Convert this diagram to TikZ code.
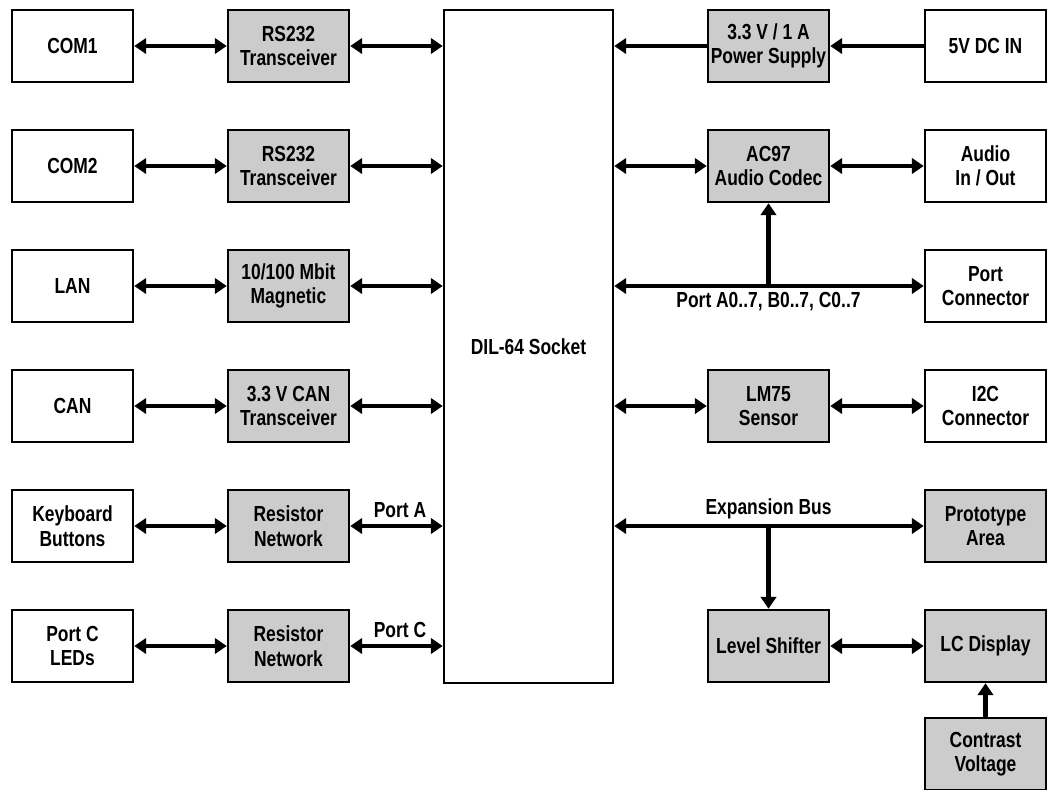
\documentclass[tikz,border=0pt]{standalone}
\usepackage{fontspec}
\setmainfont[FakeStretch=0.8]{Liberation Sans}
\usetikzlibrary{arrows.meta}

\tikzset{
    blk/.style={draw, line width=1.8pt, minimum width=3.025cm, minimum height=1.8cm,
        align=center, font=\bfseries\fontsize{15.5}{17.5}\selectfont, inner sep=1pt},
    wbox/.style={blk, fill=white},
    gbox/.style={blk, fill=black!20},
    link/.style={line width=3pt, {Triangle[length=8.5pt,width=11pt]}-{Triangle[length=8.5pt,width=11pt]}},
    feed/.style={line width=3pt, -{Triangle[length=8.5pt,width=11pt]}},
    lbl/.style={font=\bfseries\fontsize{15.5}{17.5}\selectfont, inner sep=1pt}
}

\begin{document}
\begin{tikzpicture}[x=0.025cm, y=-0.025cm]
    \useasboundingbox (0,0) rectangle (1047,790);

    % Sockel
    \node[wbox, minimum width=4.225cm, minimum height=16.825cm] (sock) at (528.5,346.5) {DIL-64 Socket};

    % Linke Seite
    \foreach \y/\n/\a/\b in {46/1/COM1/{RS232\\Transceiver}, 166/2/COM2/{RS232\\Transceiver},
            286/3/LAN/{10/100 Mbit\\Magnetic}, 406/4/CAN/{3.3 V CAN\\Transceiver},
            526/5/{Keyboard\\Buttons}/{Resistor\\Network}, 646/6/{Port C\\LEDs}/{Resistor\\Network}} {
        \node[wbox] (ext\n) at (72.5,\y) {\a};
        \node[gbox] (drv\n) at (288.5,\y) {\b};
        \draw[link] (ext\n.east) -- (drv\n.west);
        \draw[link] (drv\n.east) -- (drv\n.east -| sock.west);
    }
    \node[lbl, above] at (400,519) {Port A};
    \node[lbl, above] at (400,639) {Port C};

    % Rechte Seite
    \node[gbox] (psu) at (768.5,46) {3.3 V / 1 A\\Power Supply};
    \node[wbox] (dcin) at (985.5,46) {5V DC IN};
    \node[gbox] (codec) at (768.5,166) {AC97\\Audio Codec};
    \node[wbox] (audio) at (985.5,166) {Audio\\In / Out};
    \node[wbox] (portcon) at (985.5,286) {Port\\Connector};
    \node[gbox] (lm75) at (768.5,406) {LM75\\Sensor};
    \node[wbox] (i2c) at (985.5,406) {I2C\\Connector};
    \node[gbox] (proto) at (985.5,526) {Prototype\\Area};
    \node[gbox] (shift) at (768.5,646) {Level Shifter};
    \node[gbox] (lcd) at (985.5,646) {LC Display};
    \node[gbox] (contrast) at (985.5,754) {Contrast\\Voltage};

    \draw[feed] (dcin.west) -- (psu.east);
    \draw[feed] (psu.west) -- (psu.west -| sock.east);
    \draw[link] (codec.west) -- (codec.west -| sock.east);
    \draw[link] (codec.east) -- (audio.west);
    \draw[link] (lm75.west) -- (lm75.west -| sock.east);
    \draw[link] (lm75.east) -- (i2c.west);
    \draw[link] (shift.east) -- (lcd.west);
    \draw[feed] (contrast.north) -- (lcd.south);

    % Busse
    \coordinate (pbus) at (codec.south |- portcon.west);
    \draw[link] (portcon.west -| sock.east) -- (portcon.west);
    \draw[feed] (pbus) -- (codec.south);
    \node[lbl, below] at ([yshift=-3pt]pbus) {Port A0..7, B0..7, C0..7};

    \coordinate (ebus) at (shift.north |- proto.west);
    \draw[link] (proto.west -| sock.east) -- (proto.west);
    \draw[feed] (ebus) -- (shift.north);
    \node[lbl, above] at ([yshift=4pt]ebus) {Expansion Bus};
\end{tikzpicture}
\end{document}
